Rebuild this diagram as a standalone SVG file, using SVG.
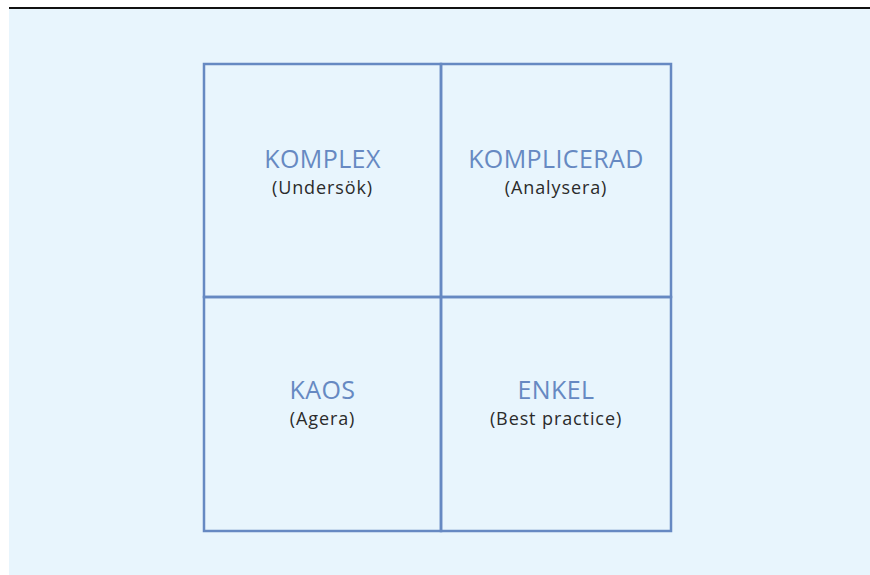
<svg xmlns="http://www.w3.org/2000/svg" width="870" height="575" viewBox="0 0 870 575">
<style>
.cell{fill:none;stroke:#6689c2;stroke-width:2.5}
.t{font-family:"Open Sans","Noto Sans",sans-serif;font-size:25px;letter-spacing:0.4px;fill:#6689c2;text-anchor:middle}
.s{font-family:"Open Sans","Noto Sans",sans-serif;font-size:18px;letter-spacing:0.9px;fill:#2b2b2b;text-anchor:middle}
</style>
<rect x="0" y="0" width="870" height="575" fill="#ffffff"/>
<rect x="9" y="9" width="861" height="566" fill="#e8f5fd"/>
<line x1="9" y1="8" x2="870" y2="8" stroke="#111111" stroke-width="2"/>
<g id="komplex">
<rect class="cell" x="204" y="64" width="237" height="233"/>
<text class="t" x="322.5" y="168">KOMPLEX</text>
<text class="s" x="322.5" y="194">(Undersök)</text>
</g>
<g id="komplicerad">
<rect class="cell" x="441" y="64" width="230" height="233"/>
<text class="t" x="556" y="168">KOMPLICERAD</text>
<text class="s" x="556" y="194">(Analysera)</text>
</g>
<g id="kaos">
<rect class="cell" x="204" y="297" width="237" height="234"/>
<text class="t" x="322.5" y="399">KAOS</text>
<text class="s" x="322.5" y="425">(Agera)</text>
</g>
<g id="enkel">
<rect class="cell" x="441" y="297" width="230" height="234"/>
<text class="t" x="556" y="399">ENKEL</text>
<text class="s" x="556" y="425">(Best practice)</text>
</g>
<g id="connectors"/>
</svg>
